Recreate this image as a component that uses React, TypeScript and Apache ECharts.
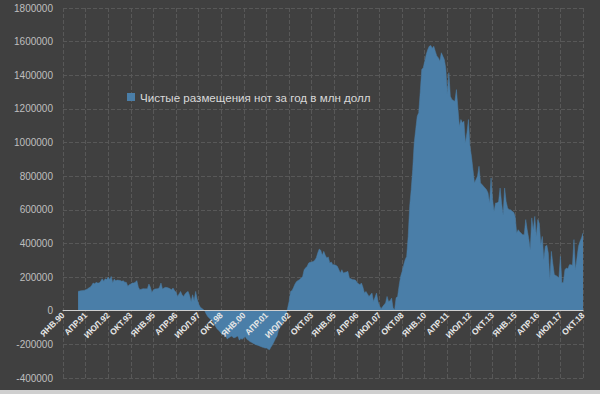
import React, { useEffect, useRef } from "react";
import * as echarts from "echarts";

const SERIES_NAME = "Чистые размещения нот за год в млн долл";
const MONTH_NAMES = ["ЯНВ", "ФЕВ", "МАР", "АПР", "МАЙ", "ИЮН", "ИЮЛ", "АВГ", "СЕН", "ОКТ", "НОЯ", "ДЕК"];
const FIRST_YEAR = 1990;
const Y_MIN = -400000;
const Y_MAX = 1800000;
const Y_STEP = 200000;

// monthly values, Jan 1990 .. Oct 2018
const netPlacements: (number | null)[] = [
  // 1990
  null, null, null, null, null, null, null, null, null, null, 115000, 117000,
  // 1991
  119000, 120000, 121000, 125000, 128000, 135000, 140000, 150000, 165000, 160000, 169000, 165000,
  // 1992
  165000, 175000, 190000, 175000, 190000, 185000, 200000, 185000, 204000, 167000, 188000, 178000,
  // 1993
  182000, 181000, 180000, 175000, 178000, 170000, 169000, 145000, 155000, 159000, 165000, 165000,
  // 1994
  170000, 179000, 140000, 125000, 128000, 131000, 131000, 130000, 131000, 159000, 140000, 109000,
  // 1995
  125000, 129000, 130000, 131000, 140000, 165000, 129000, 135000, 139000, 138000, 135000, 130000,
  // 1996
  125000, 135000, 120000, 110000, 85000, 100000, 115000, 95000, 85000, 100000, 110000, 115000,
  // 1997
  90000, 55000, 95000, 60000, 115000, 70000, 40000, 22000, 15000, 8000, 0, -20000,
  // 1998
  -35000, -43000, -52000, -60000, -75000, -90000, -105000, -115000, -123000, -135000, -143000, -133000,
  // 1999
  -150000, -168000, -160000, -155000, -150000, -160000, -160000, -155000, -150000, -175000, -165000, -170000,
  // 2000
  -160000, -155000, -170000, -175000, -183000, -188000, -193000, -198000, -202000, -205000, -208000, -212000,
  // 2001
  -216000, -219000, -222000, -222000, -228000, -232000, -216000, -202000, -185000, -165000, -150000, -115000,
  // 2002
  -100000, -85000, -65000, -45000, -24000, 15000, 55000, 115000, 120000, 140000, 160000, 174000,
  // 2003
  180000, 185000, 195000, 204000, 244000, 255000, 264000, 284000, 288000, 290000, 293000, 300000,
  // 2004
  314000, 343000, 367000, 360000, 330000, 353000, 330000, 314000, 320000, 284000, 290000, 274000,
  // 2005
  274000, 270000, 264000, 245000, 224000, 244000, 224000, 228000, 230000, 234000, 195000, 190000,
  // 2006
  185000, 184000, 182000, 170000, 160000, 155000, 165000, 140000, 105000, 115000, 100000, 85000,
  // 2007
  95000, 105000, 55000, 80000, 105000, 55000, 30000, 12000, 24000, 35000, 46000, 85000,
  // 2008
  55000, 60000, 75000, 16000, 6000, 77000, 85000, 150000, 204000, 234000, 270000, 303000,
  // 2009
  323000, 442000, 620000, 720000, 839000, 998000, 1077000, 1156000, 1177000, 1300000, 1434000, 1445000,
  // 2010
  1484000, 1524000, 1553000, 1573000, 1577000, 1560000, 1573000, 1543000, 1515000, 1504000, 1484000, 1534000,
  // 2011
  1514000, 1494000, 1440000, 1290000, 1415000, 1276000, 1256000, 1250000, 1246000, 1315000, 1206000, 1097000,
  // 2012
  1137000, 1117000, 1127000, 998000, 1058000, 1137000, 978000, 918000, 839000, 760000, 780000, 800000,
  // 2013
  859000, 760000, 750000, 740000, 730000, 720000, 700000, 641000, 790000, 661000, 591000, 641000,
  // 2014
  641000, 650000, 730000, 640000, 571000, 730000, 650000, 611000, 601000, 600000, 591000, 585000,
  // 2015
  561000, 462000, 482000, 470000, 460000, 452000, 452000, 542000, 480000, 430000, 363000, 552000,
  // 2016
  480000, 561000, 442000, 542000, 520000, 393000, 442000, 303000, 383000, 390000, 343000, 185000,
  // 2017
  353000, 280000, 214000, 210000, 204000, 195000, 323000, 165000, 170000, 244000, 254000, 250000,
  // 2018
  274000, 274000, 270000, 423000, 244000, 314000, 383000, 412000, 433000, 462000,
];

const categories: string[] = netPlacements.map(
  (_, i) => MONTH_NAMES[i % 12] + "." + String((FIRST_YEAR + Math.floor(i / 12)) % 100).padStart(2, "0")
);

const FONT = "'Liberation Sans', Arial, sans-serif";
const AREA = "#4a7ea8";
const GRID_TOP = 8;
const GRID_BOTTOM = 16;
const CHART_H = 394;

export default function App() {
  const ref = useRef<HTMLDivElement>(null);
  useEffect(() => {
    if (!ref.current) return;
    const chart = echarts.init(ref.current, undefined, { renderer: "svg" });
    const plotH = CHART_H - GRID_TOP - GRID_BOTTOM;
    const zeroOffset = (plotH * (0 - Y_MIN)) / (Y_MAX - Y_MIN);
    chart.setOption({
      animation: false,
      backgroundColor: "#404040",
      textStyle: { fontFamily: FONT },
      grid: { left: 63, right: 17, top: GRID_TOP, bottom: GRID_BOTTOM, containLabel: false, outerBoundsMode: "none" },
      legend: {
        data: [SERIES_NAME],
        left: 122,
        top: 86,
        icon: "rect",
        itemWidth: 8,
        itemHeight: 8,
        itemGap: 5,
        textStyle: { color: "#d9d9d9", fontSize: 11.6, fontFamily: FONT },
      },
      xAxis: [
        {
          type: "category",
          data: categories,
          boundaryGap: false,
          z: 5,
          position: "bottom",
          offset: -zeroOffset,
          axisLine: { onZero: false, lineStyle: { color: "#cfcfcf", width: 1 } },
          axisTick: { show: false },
          axisLabel: {
            interval: 14,
            rotate: 45,
            color: "#e6e6e6",
            fontSize: 8.5,
            fontWeight: "bold",
            margin: 3,
            fontFamily: FONT,
          },
          splitLine: { show: false },
        },
        {
          type: "category",
          data: categories,
          boundaryGap: false,
          position: "top",
          axisLine: { show: false },
          axisTick: { show: false },
          axisLabel: { show: false },
          splitLine: { show: true, interval: 14, lineStyle: { color: "#585858", type: "dashed", width: 1 } },
        },
      ],
      yAxis: {
        type: "value",
        min: Y_MIN,
        max: Y_MAX,
        interval: Y_STEP,
        axisLine: { show: false },
        axisTick: { show: false },
        axisLabel: { color: "#bfbfbf", fontSize: 10, margin: 10, fontFamily: FONT, formatter: (v: number) => String(v) },
        splitLine: { lineStyle: { color: "#585858", type: "dashed", width: 1 } },
      },
      graphic: [
        { type: "rect", left: 0, top: 390, shape: { width: 600, height: 4 }, style: { fill: "#cfcfcf" }, silent: true },
      ],
      series: [
        {
          type: "line",
          name: SERIES_NAME,
          xAxisIndex: 0,
          data: netPlacements,
          symbol: "none",
          connectNulls: false,
          lineStyle: { width: 0.5, color: AREA },
          itemStyle: { color: AREA },
          areaStyle: { color: AREA, opacity: 1 },
        },
      ],
    });
    return () => chart.dispose();
  }, []);
  return <div ref={ref} style={{ position: "fixed", left: 0, top: 0, width: 600, height: 394 }} />;
}
